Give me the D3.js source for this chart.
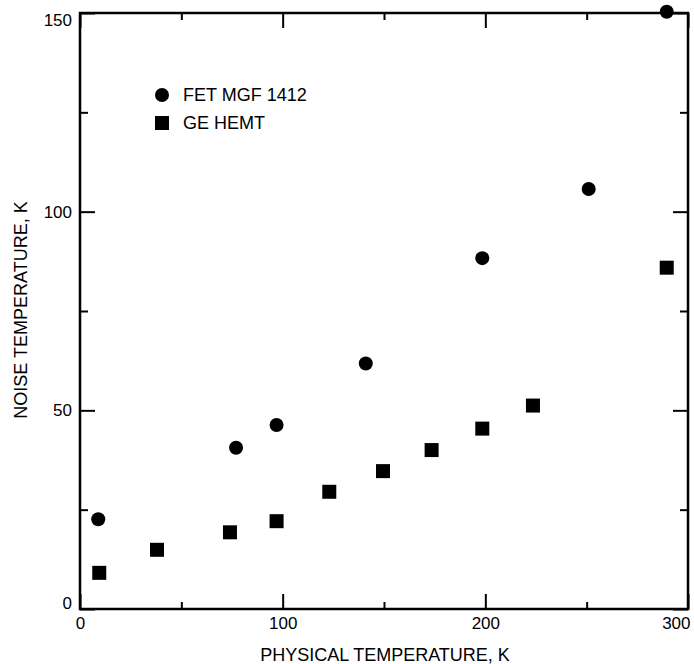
<!DOCTYPE html>
<html>
<head>
<meta charset="utf-8">
<script src="https://cdn.jsdelivr.net/npm/d3@7"></script>
<style>
  body { margin: 0; background: #fff; }
  svg text { font-family: "Liberation Sans", Arial, sans-serif; fill: #000; }
</style>
</head>
<body>
<div id="chart"></div>
<script>
// values
var fetTemps  = [9, 77, 97, 141, 198.5, 251, 289.5];
var fetNoise  = [22.6, 40.6, 46.3, 61.8, 88.3, 105.7, 150.3];
var hemtTemps = [9.5, 38, 74, 97, 123, 149.5, 173.5, 198.5, 223.5, 289.5];
var hemtNoise = [9.1, 14.9, 19.3, 22.1, 29.5, 34.7, 40, 45.4, 51.2, 85.9];

var xMajor = [0, 100, 200, 300];
var xMinor = [50, 150, 250];
var yMajor = [0, 50, 100, 150];
var yMinor = [25, 75, 125];

var legendNames = ["FET MGF 1412", "GE HEMT"];

var width = 694;
var height = 664;
var plotLeft = 80, plotRight = 688, plotTop = 13, plotBottom = 609;

var svg = d3.select("#chart")
	.append("svg")
	.attr("width", width)
	.attr("height", height);

var xScale = d3.scaleLinear().domain([0, 300]).range([plotLeft, plotRight]);
var yScale = d3.scaleLinear().domain([0, 150]).range([plotBottom, plotTop]);

//ticks on all four sides, pointing in
function addAxis(axis, tx, ty)
{
	var g = svg.append("g")
		.attr("transform", "translate(" + tx + "," + ty + ")")
		.call(axis);
	g.select(".domain").remove();
	g.selectAll(".tick line").attr("stroke", "#000").attr("stroke-width", 2);
	g.selectAll(".tick text").style("font-size", "17px");
	return g;
}

var xb = addAxis(d3.axisBottom(xScale).tickValues(xMajor).tickSize(-15).tickPadding(8).tickFormat(d3.format("d")), 0, plotBottom);
addAxis(d3.axisBottom(xScale).tickValues(xMinor).tickSize(-7).tickFormat(""), 0, plotBottom);
addAxis(d3.axisTop(xScale).tickValues(xMajor).tickSize(-15).tickFormat(""), 0, plotTop);
addAxis(d3.axisTop(xScale).tickValues(xMinor).tickSize(-7).tickFormat(""), 0, plotTop);

var yl = addAxis(d3.axisLeft(yScale).tickValues(yMajor).tickSize(-15).tickPadding(8).tickFormat(d3.format("d")), plotLeft, 0);
addAxis(d3.axisLeft(yScale).tickValues(yMinor).tickSize(-8).tickFormat(""), plotLeft, 0);
addAxis(d3.axisRight(yScale).tickValues(yMajor).tickSize(-15).tickFormat(""), plotRight, 0);
addAxis(d3.axisRight(yScale).tickValues(yMinor).tickSize(-8).tickFormat(""), plotRight, 0);

//nudge end labels like the original
xb.selectAll(".tick text")
	.filter(function(d){ return d == 300; })
	.attr("text-anchor", "end")
	.attr("x", 2);
yl.selectAll(".tick text")
	.attr("y", function(d){
		if(d == 0) return -6;
		if(d == 150) return 7;
		return 0;
	});

//frame
svg.append("rect")
	.attr("x", plotLeft)
	.attr("y", plotTop)
	.attr("width", plotRight - plotLeft)
	.attr("height", plotBottom - plotTop)
	.attr("fill", "none")
	.attr("stroke", "#000")
	.attr("stroke-width", 2.5);

//points
svg.selectAll(".fet")
	.data(fetTemps)
	.enter()
	.append("circle")
	.attr("class", "fet")
	.attr("cx", function(d){ return xScale(d); })
	.attr("cy", function(d, i){ return yScale(fetNoise[i]); })
	.attr("r", 7)
	.attr("fill", "#000");

var sq = 14;
svg.selectAll(".hemt")
	.data(hemtTemps)
	.enter()
	.append("rect")
	.attr("class", "hemt")
	.attr("x", function(d){ return xScale(d) - sq / 2; })
	.attr("y", function(d, i){ return yScale(hemtNoise[i]) - sq / 2; })
	.attr("width", sq)
	.attr("height", sq)
	.attr("fill", "#000");

//legend
svg.append("circle")
	.attr("cx", 162)
	.attr("cy", 95)
	.attr("r", 7)
	.attr("fill", "#000");
svg.append("rect")
	.attr("x", 162 - sq / 2)
	.attr("y", 123 - sq / 2)
	.attr("width", sq)
	.attr("height", sq)
	.attr("fill", "#000");
svg.selectAll(".legtext")
	.data(legendNames)
	.enter()
	.append("text")
	.attr("class", "legtext")
	.attr("x", 183)
	.attr("y", function(d, i){ return 95 + i * 28; })
	.attr("dy", "0.35em")
	.style("font-size", "18px")
	.text(function(d){ return d; });

//axis titles
svg.append("text")
	.attr("x", 385)
	.attr("y", 655)
	.attr("dy", "0.35em")
	.style("text-anchor", "middle")
	.style("font-size", "18px")
	.text("PHYSICAL TEMPERATURE, K");

svg.append("text")
	.attr("transform", "translate(21,310) rotate(-90)")
	.attr("dy", "0.35em")
	.style("text-anchor", "middle")
	.style("font-size", "18px")
	.text("NOISE TEMPERATURE, K");
</script>
</body>
</html>
